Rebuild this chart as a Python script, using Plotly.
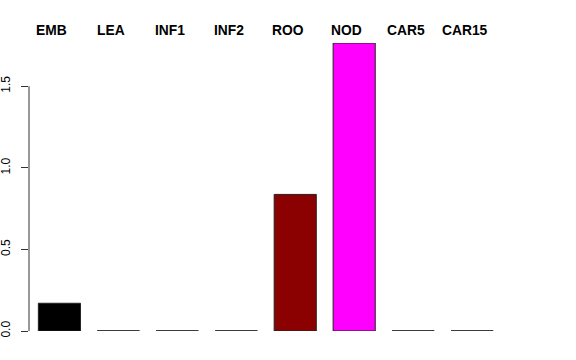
import plotly.graph_objects as go

categories = ["EMB", "LEA", "INF1", "INF2", "ROO", "NOD", "CAR5", "CAR15"]
values = [0.17, 0.0, 0.0, 0.0, 0.837, 1.765, 0.0, 0.0]
colors = ["#000000", "#FF0000", "#00CD00", "#0000FF", "#8B0000", "#FF00FF", "#00FFFF", "#FFD700"]
y_ticks = [0.0, 0.5, 1.0, 1.5]
y_tick_labels = ["0.0", "0.5", "1.0", "1.5"]

# R-style bar positions: width 1, space 0.4
bar_w = 1.0
space = 0.4
centers = [space + bar_w / 2 + i * (bar_w + space) for i in range(len(categories))]

fig = go.Figure()
fig.add_trace(go.Bar(
    x=centers, y=values, width=bar_w,
    marker=dict(color=colors, line=dict(color="#222222", width=1)),
    showlegend=False, hoverinfo="skip",
))
# zero-height bars are drawn as their border line, as R does
for c, v in zip(centers, values):
    if v == 0:
        fig.add_trace(go.Scatter(
            x=[c - bar_w / 2, c + bar_w / 2], y=[0, 0], mode="lines",
            line=dict(color="#333333", width=1.3), showlegend=False, hoverinfo="skip",
        ))

margin_t, margin_b = 43, 29
plot_h = 360 - margin_t - margin_b
label_y_px = 30.0
label_shift = -0.18

# top labels, one per bar
for c, cat in zip(centers, categories):
    fig.add_annotation(
        x=c + label_shift, xref="x",
        y=1 + (margin_t - label_y_px) / plot_h, yref="paper", yanchor="middle",
        text="<b>%s</b>" % cat, showarrow=False,
        font=dict(family="Liberation Sans, Arial, sans-serif", size=13.8, color="black"),
    )

ymax = max(values)
fig.update_layout(
    width=576, height=360,
    margin=dict(l=29, r=66, t=margin_t, b=margin_b, autoexpand=False),
    paper_bgcolor="white", plot_bgcolor="white",
    font=dict(family="Liberation Sans, Arial, sans-serif", size=12, color="black"),
    xaxis=dict(range=[0.178, 11.6], showgrid=False, zeroline=False, showticklabels=False,
               ticks="", showline=False, fixedrange=True, automargin=False),
    yaxis=dict(range=[0, ymax], showgrid=False, zeroline=False, showline=False,
               automargin=False,
               tickvals=y_ticks, ticktext=y_tick_labels, ticks="outside", ticklen=7,
               tickcolor="#333333", tickwidth=1, tickangle=-90, ticklabelstandoff=6,
               tickfont=dict(size=12, color="black")),
    shapes=[dict(type="line", xref="paper", x0=0, x1=0, yref="y",
                 y0=y_ticks[0], y1=y_ticks[-1], line=dict(color="#333333", width=1))],
)

fig.write_html("out.html")
